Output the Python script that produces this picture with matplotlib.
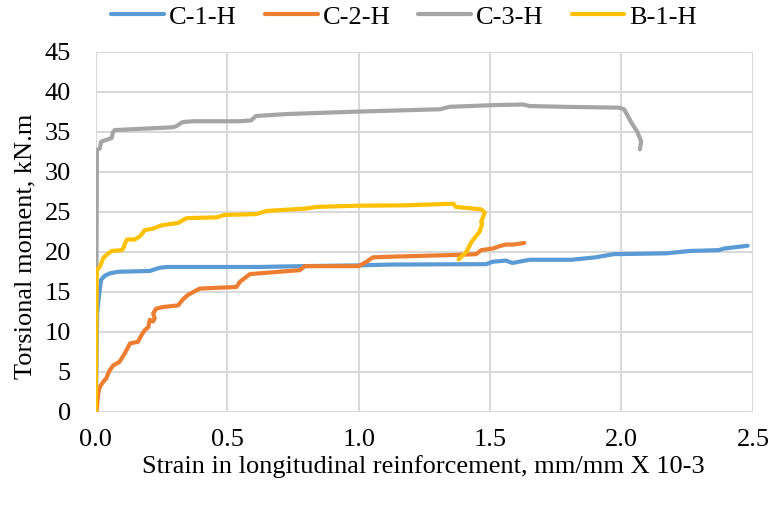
import numpy as np
import matplotlib.pyplot as plt

plt.rcParams['font.family'] = ['Liberation Serif', 'DejaVu Serif']

# C-1-H
c1_x = [0.0, 0.005, 0.013, 0.02, 0.034, 0.053, 0.085, 0.205, 0.243, 0.27, 0.62, 0.78, 1.0,
        1.12, 1.485, 1.51, 1.56, 1.585, 1.65, 1.81, 1.9, 1.97, 2.17, 2.26, 2.37, 2.39, 2.48]
c1_y = [0.0, 12.3, 14.8, 16.5, 17.0, 17.3, 17.5, 17.6, 18.0, 18.1, 18.1, 18.2, 18.3,
        18.4, 18.45, 18.75, 18.9, 18.6, 19.0, 19.0, 19.3, 19.7, 19.8, 20.1, 20.2, 20.4, 20.75]

# C-2-H
c2_x = [0.0, 0.003, 0.009, 0.015, 0.028, 0.04, 0.047, 0.053, 0.066, 0.09, 0.11, 0.13, 0.16,
        0.174, 0.186, 0.2, 0.205, 0.218, 0.224, 0.218, 0.23, 0.256, 0.313, 0.33, 0.35, 0.395,
        0.535, 0.548, 0.586, 0.62, 0.776, 0.795, 1.0, 1.03, 1.054, 1.14, 1.37, 1.447, 1.466,
        1.51, 1.536, 1.56, 1.59, 1.63]
c2_y = [0.0, 0.2, 2.3, 3.1, 3.75, 4.2, 4.8, 5.2, 5.8, 6.25, 7.3, 8.55, 8.75,
        9.6, 10.2, 10.6, 11.5, 11.3, 11.7, 12.3, 12.9, 13.1, 13.3, 14.0, 14.6, 15.4,
        15.6, 16.25, 17.2, 17.3, 17.7, 18.2, 18.2, 18.75, 19.3, 19.4, 19.6, 19.7, 20.2,
        20.4, 20.7, 20.9, 20.9, 21.1]

# C-3-H
c3_x = [0.0, 0.002, 0.004, 0.015, 0.02, 0.047, 0.06, 0.066, 0.072, 0.294, 0.307, 0.33, 0.37,
        0.548, 0.59, 0.61, 0.725, 0.99, 1.31, 1.345, 1.5, 1.625, 1.65, 1.79, 1.99, 2.01,
        2.04, 2.06, 2.075, 2.07]
c3_y = [0.0, 15.0, 32.7, 32.9, 33.75, 34.05, 34.2, 35.0, 35.2, 35.55, 35.7, 36.2, 36.3,
        36.3, 36.4, 36.96, 37.2, 37.5, 37.8, 38.1, 38.3, 38.4, 38.2, 38.1, 38.0, 37.8,
        36.0, 35.0, 33.75, 32.8]

# B-1-H
b1_x = [0.0, 0.003, 0.015, 0.028, 0.04, 0.06, 0.098, 0.104, 0.117, 0.135, 0.145, 0.167,
        0.186, 0.218, 0.25, 0.313, 0.345, 0.46, 0.49, 0.61, 0.65, 0.80, 0.84, 0.99, 1.18,
        1.36, 1.37, 1.466, 1.48, 1.466, 1.47, 1.46, 1.43, 1.41, 1.38]
b1_y = [0.0, 17.7, 18.1, 19.2, 19.6, 20.1, 20.2, 20.4, 21.5, 21.55, 21.5, 21.9,
        22.7, 22.9, 23.3, 23.6, 24.2, 24.3, 24.6, 24.7, 25.1, 25.4, 25.6, 25.75, 25.8,
        26.0, 25.6, 25.3, 24.9, 23.75, 23.5, 22.5, 21.25, 20.0, 19.05]

series = [("C-1-H", c1_x, c1_y, "#5B9BD5"),
          ("C-2-H", c2_x, c2_y, "#ED7D31"),
          ("C-3-H", c3_x, c3_y, "#A5A5A5"),
          ("B-1-H", b1_x, b1_y, "#FFC000")]

fs = 19

fig = plt.figure(figsize=(7.73, 5.11), dpi=100)
ax = fig.add_axes([0.124, 0.194, 0.850, 0.705])

for name, x, y, c in series:
    ax.plot(x, y, color=c, lw=3.0, label=name, solid_capstyle='round',
            solid_joinstyle='round')

ax.set_xlim(0, 2.5)
ax.set_ylim(0, 45)
ax.set_xticks(np.arange(0, 2.51, 0.5))
ax.set_xticklabels([f"{v:.1f}" for v in np.arange(0, 2.51, 0.5)])
ax.set_yticks(np.arange(0, 46, 5))
ax.tick_params(length=0, labelsize=fs)
ax.tick_params(axis='y', pad=18)
ax.tick_params(axis='x', pad=12)

for s in ax.spines.values():
    s.set_visible(False)
ax.grid(True, color="#d9d9d9", lw=1.5)
ax.set_axisbelow(True)

ax.set_xlabel("Strain in longitudinal reinforcement, mm/mm X 10-3", fontsize=fs)
ax.set_ylabel("Torsional moment, kN.m", fontsize=fs)
ax.xaxis.set_label_coords(0.498, -0.12)
ax.yaxis.set_label_coords(-0.09, 0.46)

ax.legend(loc='center', bbox_to_anchor=(0.523, 0.967), bbox_transform=fig.transFigure,
          ncol=4, frameon=False, fontsize=fs, handlelength=2.0, handletextpad=0.2,
          columnspacing=1.05, borderpad=0, borderaxespad=0)

fig.savefig("out.png", dpi=100)
